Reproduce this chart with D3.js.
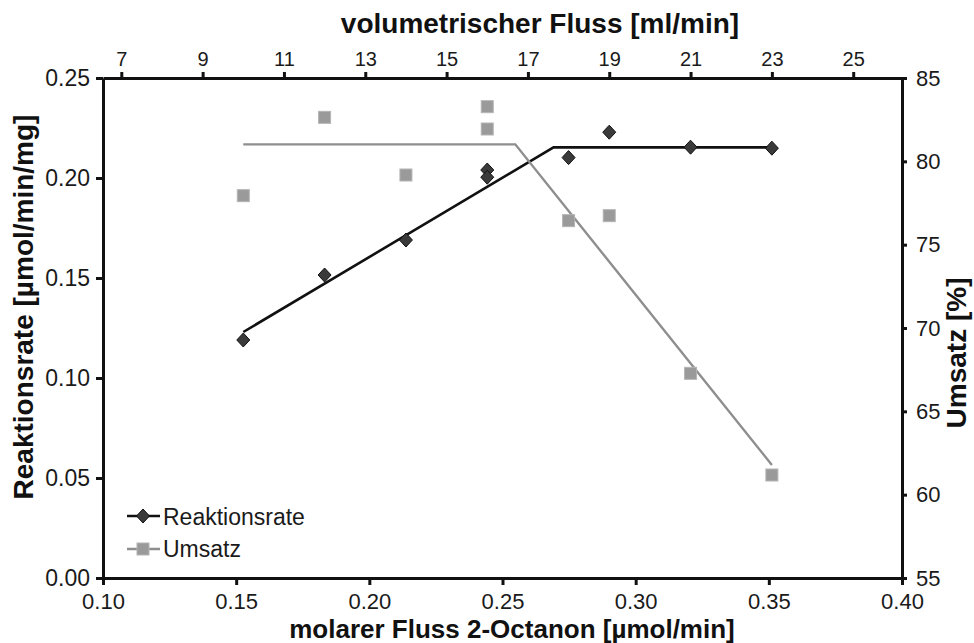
<!DOCTYPE html>
<html>
<head>
<meta charset="utf-8">
<script src="https://cdn.jsdelivr.net/npm/d3@7"></script>
<style>
  body { margin: 0; background: #fff; }
  svg { font-family: "Liberation Sans", Arial, sans-serif; }
  .axis path, .axis line { stroke: #111; stroke-width: 3px; }
  .axis text { fill: #1a1a1a; }
  .title { font-weight: bold; fill: #111; }
</style>
</head>
<body>
<div id="chart"></div>
<script>
// measured points (volumetric flow in ml/min)
var rateVol = [10, 12, 14, 16, 16, 18, 19, 21, 23];
var rate = [0.119, 0.1515, 0.169, 0.204, 0.2004, 0.2102, 0.2229, 0.2154, 0.2149];
var umsatzVol = [10, 12, 14, 16, 16, 18, 19, 21, 23];
var umsatz = [77.94, 82.64, 79.18, 83.28, 81.94, 76.44, 76.74, 67.28, 61.18];

// fitted trend lines
var rateFitVol = [10, 17.63, 23];
var rateFit = [0.123, 0.2153, 0.2153];
var umsatzFitVol = [10, 16.69, 23];
var umsatzFit = [81.02, 81.02, 61.78];

// axis ticks
var molarTicks = [0.10, 0.15, 0.20, 0.25, 0.30, 0.35, 0.40];
var volTicks = [7, 9, 11, 13, 15, 17, 19, 21, 23, 25];
var rateTicks = [0.00, 0.05, 0.10, 0.15, 0.20, 0.25];
var umsatzTicks = [55, 60, 65, 70, 75, 80, 85];

var legendNames = ["Reaktionsrate", "Umsatz"];

// ml/min per umol/min
var volPerMolar = 65.5;

var margin = {top: 78, right: 72, bottom: 65, left: 103},
    width = 974 - margin.left - margin.right,
    height = 643 - margin.top - margin.bottom;

var x = d3.scaleLinear().domain([0.10, 0.40]).range([0, width]);
var xTop = d3.scaleLinear()
    .domain([0.10 * volPerMolar, 0.40 * volPerMolar])
    .range([0, width]);
var y = d3.scaleLinear().domain([0, 0.25]).range([height, 0]);
var y2 = d3.scaleLinear().domain([55, 85]).range([height, 0]);

var svg = d3.select("#chart").append("svg")
    .attr("width", 974)
    .attr("height", 643);

var g = svg.append("g")
    .attr("transform", "translate(" + margin.left + "," + margin.top + ")");

// axes
g.append("g")
  .attr("class", "axis")
  .attr("transform", "translate(0," + height + ")")
  .call(d3.axisBottom(x).tickValues(molarTicks).tickFormat(d3.format(".2f"))
        .tickSizeInner(7).tickSizeOuter(0).tickPadding(8))
  .style("font-size", "22px");

var topAxis = g.append("g")
  .attr("class", "axis")
  .call(d3.axisTop(xTop).tickValues(volTicks).tickFormat(d3.format("d"))
        .tickSizeInner(6).tickSizeOuter(0).tickPadding(6))
  .style("font-size", "20px");
topAxis.selectAll(".tick line").attr("y1", 2);

g.append("g")
  .attr("class", "axis")
  .call(d3.axisLeft(y).tickValues(rateTicks).tickFormat(d3.format(".2f"))
        .tickSizeInner(7).tickSizeOuter(0).tickPadding(6))
  .style("font-size", "23px");

g.append("g")
  .attr("class", "axis")
  .attr("transform", "translate(" + width + ",0)")
  .call(d3.axisRight(y2).tickValues(umsatzTicks).tickFormat(d3.format("d"))
        .tickSizeInner(5).tickSizeOuter(0).tickPadding(9))
  .style("font-size", "22px");

g.selectAll(".axis text").attr("font-family", null);

// fitted lines
var rateLine = d3.line()
    .x(function(d, i) { return xTop(rateFitVol[i]); })
    .y(function(d) { return y(d); });
var umsatzLine = d3.line()
    .x(function(d, i) { return xTop(umsatzFitVol[i]); })
    .y(function(d) { return y2(d); });

g.append("path")
  .datum(rateFit)
  .attr("fill", "none")
  .attr("stroke", "#111")
  .attr("stroke-width", 2.6)
  .attr("d", rateLine);

g.append("path")
  .datum(umsatzFit)
  .attr("fill", "none")
  .attr("stroke", "#8e8e8e")
  .attr("stroke-width", 2.4)
  .attr("d", umsatzLine);

// markers
var diamond = "M0,-7L6.5,0L0,7L-6.5,0Z";

g.selectAll(".rate-pt")
  .data(rate)
  .enter().append("path")
  .attr("class", "rate-pt")
  .attr("d", diamond)
  .attr("transform", function(d, i) {
    return "translate(" + xTop(rateVol[i]) + "," + y(d) + ")";
  })
  .attr("fill", "#3a3a3a")
  .attr("stroke", "#111")
  .attr("stroke-width", 1);

g.selectAll(".ums-pt")
  .data(umsatz)
  .enter().append("rect")
  .attr("class", "ums-pt")
  .attr("x", function(d, i) { return xTop(umsatzVol[i]) - 6; })
  .attr("y", function(d) { return y2(d) - 6; })
  .attr("width", 12)
  .attr("height", 12)
  .attr("fill", "#9a9a9a")
  .attr("stroke", "#b4b4b4")
  .attr("stroke-width", 1);

// legend
var legend = svg.append("g").attr("transform", "translate(127,516)");

legend.append("line")
  .attr("x1", 0).attr("x2", 33).attr("y1", 0).attr("y2", 0)
  .attr("stroke", "#111").attr("stroke-width", 2.6);
legend.append("path")
  .attr("d", diamond)
  .attr("transform", "translate(16,0)")
  .attr("fill", "#3a3a3a").attr("stroke", "#111");
legend.append("text")
  .attr("x", 36).attr("y", 9)
  .style("font-size", "23px").attr("fill", "#1a1a1a")
  .text(legendNames[0]);

legend.append("line")
  .attr("x1", 0).attr("x2", 33).attr("y1", 33).attr("y2", 33)
  .attr("stroke", "#8e8e8e").attr("stroke-width", 2.4);
legend.append("rect")
  .attr("x", 10).attr("y", 27).attr("width", 12).attr("height", 12)
  .attr("fill", "#9a9a9a").attr("stroke", "#b4b4b4");
legend.append("text")
  .attr("x", 36).attr("y", 41)
  .style("font-size", "23px").attr("fill", "#1a1a1a")
  .text(legendNames[1]);

// axis titles
svg.append("text")
  .attr("class", "title")
  .attr("x", 540).attr("y", 33)
  .attr("text-anchor", "middle")
  .style("font-size", "28px")
  .text("volumetrischer Fluss [ml/min]");

svg.append("text")
  .attr("class", "title")
  .attr("x", 512).attr("y", 638)
  .attr("text-anchor", "middle")
  .style("font-size", "26px")
  .text("molarer Fluss 2-Octanon [µmol/min]");

svg.append("text")
  .attr("class", "title")
  .attr("transform", "translate(33,307) rotate(-90)")
  .attr("text-anchor", "middle")
  .style("font-size", "28px")
  .text("Reaktionsrate [µmol/min/mg]");

svg.append("text")
  .attr("class", "title")
  .attr("transform", "translate(966,353) rotate(-90)")
  .attr("text-anchor", "middle")
  .style("font-size", "28px")
  .text("Umsatz [%]");
</script>
</body>
</html>
